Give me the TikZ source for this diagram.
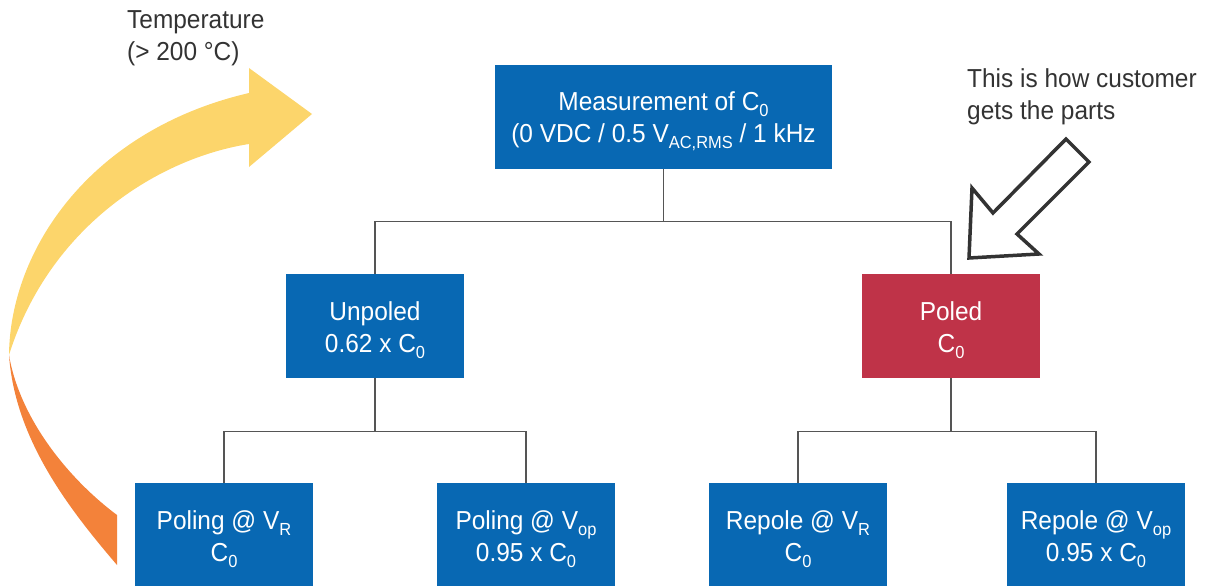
\documentclass[tikz,border=0pt]{standalone}
\usepackage{fontspec}
\setmainfont[FakeStretch=0.94]{Liberation Sans}
\usetikzlibrary{calc}
\definecolor{boxblue}{HTML}{0868B3}
\definecolor{boxred}{HTML}{BF3348}
\definecolor{warmyellow}{HTML}{FCD56B}
\definecolor{warmorange}{HTML}{F3823A}
\definecolor{linegray}{HTML}{555555}
\definecolor{txtgray}{HTML}{333333}
\newcommand\subs[1]{\raisebox{-0.24em}{\fontsize{17.5}{17.5}\selectfont #1}}
\newcommand\topstrut{\rule{0pt}{27pt}}
\begin{document}
\begin{tikzpicture}[x=1pt,y=-1pt,
  box/.style={fill=boxblue, text=white, minimum width=178pt, minimum height=104pt,
    inner sep=0pt, align=center, font=\fontsize{26}{32.5}\selectfont},
  conn/.style={draw=linegray, line width=1.3pt},
  lbl/.style={text=txtgray, inner sep=0pt, align=left, font=\fontsize{26}{31.5}\selectfont}]
\useasboundingbox (0,0) rectangle (1210,586);

% curved temperature arrow
\fill[warmyellow] (9,355) .. controls (10,250) and (90,130) .. (249,93)
  -- (249,68) -- (312,114) -- (249,167) -- (249,144)
  .. controls (160,158) and (50,225) .. (9,355) -- cycle;
\fill[warmorange] (9,355) .. controls (15,440) and (70,510) .. (117,565)
  -- (117,515) .. controls (70,480) and (20,420) .. (9,355) -- cycle;

% hollow arrow
\draw[draw=txtgray, line width=3.5pt, fill=white, line join=miter]
  (969,258) -- (972,188) -- (993,213) -- (1066,139) -- (1089,162)
  -- (1017,234) -- (1039,254) -- cycle;

% boxes
\node[box, minimum width=337pt] (top) at (663.5,117)
  {\topstrut Measurement of C\subs{0}\\(0 VDC / 0.5 V\subs{AC,RMS} / 1 kHz};
\node[box] (unp) at (375,326) {\topstrut Unpoled\\0.62 x C\subs{0}};
\node[box, fill=boxred] (pol) at (951,326) {\topstrut Poled\\C\subs{0}};
\node[box] (pvr) at (224,535) {\topstrut Poling @ V\subs{R}\\C\subs{0}};
\node[box] (pvop) at (526,535) {\topstrut Poling @ V\subs{op}\\0.95 x C\subs{0}};
\node[box] (rvr) at (798,535) {\topstrut Repole @ V\subs{R}\\C\subs{0}};
\node[box] (rvop) at (1096,535) {\topstrut Repole @ V\subs{op}\\0.95 x C\subs{0}};

% connectors
\draw[conn] (top.south) -- ++(0,52) -| (unp.north);
\draw[conn] (top.south) -- ++(0,52) -| (pol.north);
\draw[conn] (unp.south) -- ++(0,53) -| (pvr.north);
\draw[conn] (unp.south) -- ++(0,53) -| (pvop.north);
\draw[conn] (pol.south) -- ++(0,53) -| (rvr.north);
\draw[conn] (pol.south) -- ++(0,53) -| (rvop.north);

% labels
\node[lbl, anchor=base west] (temp) at (127,60) {Temperature\\(> 200 °C)};
\node[lbl, anchor=base west] (cust) at (967,119) {This is how customer\\gets the parts};
\end{tikzpicture}
\end{document}
